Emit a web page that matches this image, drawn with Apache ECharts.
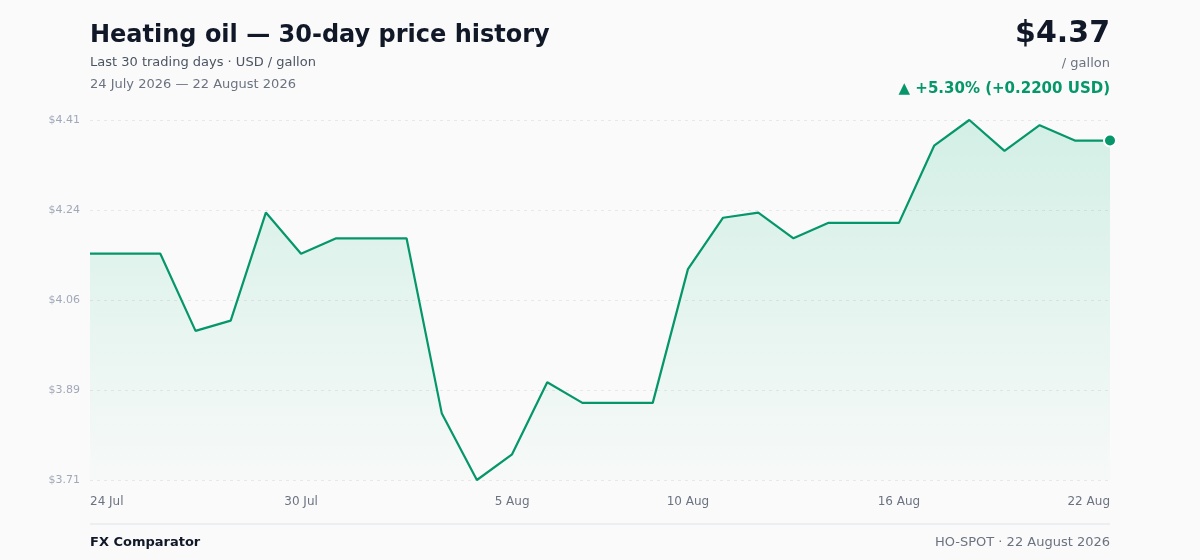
<!DOCTYPE html>
<html>
<head>
<meta charset="utf-8">
<title>Heating oil — 30-day price history</title>
<script src="https://cdn.jsdelivr.net/npm/echarts@6/dist/echarts.min.js"></script>
<style>
  html, body { margin: 0; padding: 0; background: #fafafa; }
  #chart { width: 1200px; height: 560px; }
</style>
</head>
<body>
<div id="chart"></div>
<script>
// 30 consecutive days, 24 Jul – 22 Aug 2026
var dates = [
  '24 Jul', '25 Jul', '26 Jul', '27 Jul', '28 Jul', '29 Jul', '30 Jul', '31 Jul',
  '1 Aug', '2 Aug', '3 Aug', '4 Aug', '5 Aug', '6 Aug', '7 Aug', '8 Aug', '9 Aug',
  '10 Aug', '11 Aug', '12 Aug', '13 Aug', '14 Aug', '15 Aug', '16 Aug', '17 Aug',
  '18 Aug', '19 Aug', '20 Aug', '21 Aug', '22 Aug'
];
// USD / gallon
var prices = [
  4.15, 4.15, 4.15, 4.00, 4.02, 4.23, 4.15, 4.18, 4.18, 4.18,
  3.84, 3.71, 3.76, 3.90, 3.86, 3.86, 3.86, 4.12, 4.22, 4.23,
  4.18, 4.21, 4.21, 4.21, 4.36, 4.41, 4.35, 4.40, 4.37, 4.37
];
var labelIdx = [0, 6, 12, 17, 23, 29];
var yTicks = [3.71, 3.885, 4.06, 4.235, 4.41];

var green = '#059669';
var font = '"DejaVu Sans", sans-serif';

var chart = echarts.init(document.getElementById('chart'));

var last = prices.length - 1;

var option = {
  backgroundColor: '#fafafa',
  animation: false,
  grid: { left: 90, right: 90, top: 120, bottom: 80 },
  xAxis: {
    type: 'category',
    data: dates,
    boundaryGap: false,
    axisLine: { show: false },
    axisTick: { show: false },
    splitLine: { show: false },
    axisLabel: {
      interval: function (i) { return labelIdx.indexOf(i) >= 0; },
      alignMinLabel: 'left',
      alignMaxLabel: 'right',
      margin: 16,
      color: '#6b7280',
      fontSize: 12,
      fontFamily: font
    }
  },
  yAxis: {
    type: 'value',
    min: yTicks[0],
    max: yTicks[yTicks.length - 1],
    axisLine: { show: false },
    axisTick: { show: false, customValues: yTicks },
    axisLabel: {
      customValues: yTicks,
      margin: 10,
      color: '#a0a8b8',
      fontSize: 11,
      fontFamily: font,
      formatter: function (v) { return '$' + (Math.round(v * 100 + 1e-6) / 100).toFixed(2); }
    },
    splitLine: { lineStyle: { color: '#e6e8ec', type: [3, 4], width: 1 } }
  },
  series: [
    {
      type: 'line',
      data: prices,
      showSymbol: false,
      lineStyle: { color: green, width: 2.2 },
      areaStyle: {
        color: new echarts.graphic.LinearGradient(0, 0, 0, 1, [
          { offset: 0, color: 'rgba(16,185,129,0.24)' },
          { offset: 1, color: 'rgba(16,185,129,0.02)' }
        ])
      },
      z: 2
    },
    {
      type: 'scatter',
      data: [[last, prices[last]]],
      symbolSize: 12,
      itemStyle: { color: green, opacity: 1, borderColor: '#ffffff', borderWidth: 2 },
      z: 3
    }
  ],
  graphic: [
    { type: 'text', x: 90, y: 36, style: { text: 'Heating oil — 30-day price history', font: 'bold 24px ' + font, fill: '#111827', textVerticalAlign: 'middle' } },
    { type: 'text', x: 90, y: 63, style: { text: 'Last 30 trading days · USD / gallon', font: '13px ' + font, fill: '#4b5563', textVerticalAlign: 'middle' } },
    { type: 'text', x: 90, y: 85, style: { text: '24 July 2026 — 22 August 2026', font: '13px ' + font, fill: '#6b7280', textVerticalAlign: 'middle' } },
    { type: 'text', x: 1110, y: 34, style: { text: '$4.37', font: 'bold 30px ' + font, fill: '#111827', textAlign: 'right', textVerticalAlign: 'middle' } },
    { type: 'text', x: 1110, y: 64, style: { text: '/ gallon', font: '13px ' + font, fill: '#6b7280', textAlign: 'right', textVerticalAlign: 'middle' } },
    { type: 'text', x: 1110, y: 89, style: { text: '▲ +5.30% (+0.2200 USD)', font: 'bold 15px ' + font, fill: green, textAlign: 'right', textVerticalAlign: 'middle' } },
    { type: 'line', shape: { x1: 90, y1: 524, x2: 1110, y2: 524 }, style: { stroke: '#e8eaed', lineWidth: 1.5 } },
    { type: 'text', x: 90, y: 543, style: { text: 'FX Comparator', font: 'bold 13px ' + font, fill: '#111827', textVerticalAlign: 'middle' } },
    { type: 'text', x: 1110, y: 543, style: { text: 'HO-SPOT · 22 August 2026', font: '13px ' + font, fill: '#6b7280', textAlign: 'right', textVerticalAlign: 'middle' } }
  ]
};

chart.setOption(option);
window.onresize = chart.resize;
</script>
</body>
</html>
